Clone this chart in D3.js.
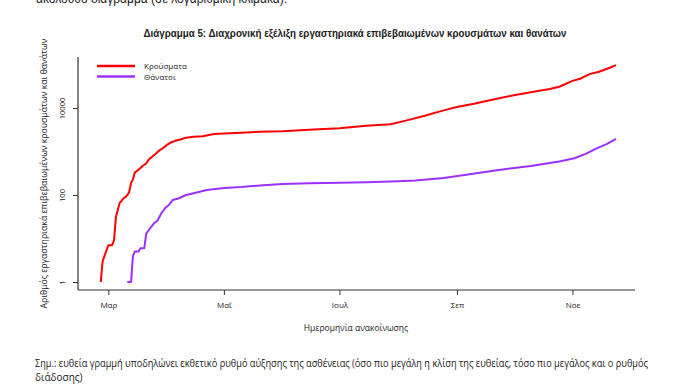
<!DOCTYPE html>
<html>
<head>
<meta charset="utf-8">
<script src="https://cdn.jsdelivr.net/npm/d3@7"></script>
<style>
  body { margin: 0; background: #fff; }
  svg { display: block; }
  text { font-family: "Open Sans", "Noto Sans", sans-serif; fill: #222; }
</style>
</head>
<body>
<svg width="680" height="390"></svg>
<script>
// cumulative confirmed cases (log scale)
const caseDates = ["2020-02-26","2020-02-27","2020-02-28","2020-03-01","2020-03-03","2020-03-04","2020-03-05","2020-03-06","2020-03-07","2020-03-08","2020-03-09","2020-03-10","2020-03-11","2020-03-12","2020-03-13","2020-03-14","2020-03-15","2020-03-16","2020-03-17","2020-03-18","2020-03-19","2020-03-20","2020-03-21","2020-03-22","2020-03-23","2020-03-24","2020-03-25","2020-03-26","2020-03-28","2020-03-30","2020-04-01","2020-04-03","2020-04-05","2020-04-08","2020-04-11","2020-04-15","2020-04-20","2020-04-23","2020-04-26","2020-05-01","2020-05-10","2020-05-20","2020-06-01","2020-06-15","2020-07-01","2020-07-15","2020-07-28","2020-08-05","2020-08-15","2020-08-25","2020-09-01","2020-09-10","2020-09-22","2020-10-01","2020-10-10","2020-10-20","2020-10-25","2020-11-01","2020-11-05","2020-11-10","2020-11-15","2020-11-20","2020-11-24"];
const caseValues = [1,3,4,7,7,9,31,45,66,73,84,89,99,117,190,228,331,352,387,418,464,495,530,624,695,743,821,892,1061,1212,1415,1613,1735,1884,2081,2192,2245,2401,2517,2591,2710,2850,2918,3148,3432,3910,4227,5123,6632,8819,10524,12452,16286,19613,23000,27334,30782,42000,47000,60000,68000,82000,97000];

// cumulative deaths
const deathDates = ["2020-03-11","2020-03-13","2020-03-14","2020-03-15","2020-03-17","2020-03-18","2020-03-20","2020-03-21","2020-03-23","2020-03-25","2020-03-27","2020-03-29","2020-03-31","2020-04-02","2020-04-04","2020-04-07","2020-04-11","2020-04-15","2020-04-22","2020-05-01","2020-05-10","2020-05-20","2020-06-01","2020-06-15","2020-07-01","2020-07-15","2020-08-01","2020-08-10","2020-08-25","2020-09-05","2020-09-23","2020-10-10","2020-10-25","2020-11-02","2020-11-08","2020-11-14","2020-11-19","2020-11-24"];
const deathValues = [1,1,4,5,5,6,6,13,17,22,26,38,50,59,77,83,100,110,130,145,152,165,180,187,192,196,206,215,246,288,376,464,590,700,880,1200,1480,1940];

const tickDates = ["2020-03-01","2020-05-01","2020-07-01","2020-09-01","2020-11-01"];
const tickLabels = ["Μαρ","Μαΐ","Ιουλ","Σεπ","Νοε"];
const yTicks = [1, 100, 10000];
const seriesNames = ["Κρούσματα","Θάνατοι"];
const seriesColors = ["#ff0000","#9b30ff"];

const parse = d3.utcParse("%Y-%m-%d");
const plot = {left: 78, right: 635, top: 57, bottom: 290};

var svg = d3.select("svg");
svg.append("rect").attr("width", 680).attr("height", 390).attr("fill", "#fff");

var x = d3.scaleUtc()
          .domain([parse("2020-02-14"), parse("2020-12-04")])
          .range([plot.left, plot.right]);
var y = d3.scaleLog()
          .domain([0.655, 148600])
          .range([plot.bottom, plot.top]);

// cut-off line of document text above the figure
svg.append("text")
   .attr("x", 36).attr("y", 3)
   .style("font-family", "'Liberation Sans Narrow', 'Liberation Sans', sans-serif")
   .style("font-size", "12px")
   .text("ακόλουθο διάγραμμα (σε λογαριθμική κλίμακα).");

svg.append("text")
   .attr("x", 355).attr("y", 37)
   .attr("text-anchor", "middle")
   .attr("textLength", 423).attr("lengthAdjust", "spacingAndGlyphs")
   .style("font-family", "'Liberation Sans Narrow', 'Liberation Sans', sans-serif")
   .style("font-weight", "bold").style("font-size", "10px")
   .text("Διάγραμμα 5: Διαχρονική εξέλιξη εργαστηριακά επιβεβαιωμένων κρουσμάτων και θανάτων");

// axes
var xAxis = d3.axisBottom(x)
              .tickValues(tickDates.map(parse))
              .tickFormat(function(d, i) { return tickLabels[i]; })
              .tickSize(5).tickSizeOuter(0);
svg.append("g")
   .attr("transform", "translate(0," + plot.bottom + ")")
   .call(customXAxis);

function customXAxis(g) {
  g.call(xAxis);
  g.select(".domain").attr("stroke", "#333").attr("stroke-width", 1.2)
   .attr("d", "M" + plot.left + ",0H" + plot.right);
  g.selectAll(".tick line").attr("stroke", "#333");
  g.selectAll(".tick text").attr("y", 12).style("font-size", "8px").attr("fill", "#333");
}

var yAxis = d3.axisLeft(y)
              .tickValues(yTicks)
              .tickFormat(d3.format("d"))
              .tickSize(5).tickSizeOuter(0);
svg.append("g")
   .attr("transform", "translate(" + plot.left + ",0)")
   .call(customYAxis);

function customYAxis(g) {
  g.call(yAxis);
  g.select(".domain").attr("stroke", "#333").attr("stroke-width", 1.2)
   .attr("d", "M0," + plot.top + "V" + plot.bottom);
  g.selectAll(".tick line").attr("stroke", "#333");
  g.selectAll(".tick text")
   .attr("x", 0).attr("dy", 0)
   .attr("text-anchor", "middle")
   .attr("transform", "translate(-13,0) rotate(-90)")
   .style("font-size", "7.5px").attr("fill", "#333");
}

svg.append("text")
   .attr("x", 356).attr("y", 331)
   .attr("text-anchor", "middle")
   .style("font-size", "8.5px")
   .text("Ημερομηνία ανακοίνωσης");

svg.append("text")
   .attr("transform", "translate(47," + ((plot.top + plot.bottom) / 2) + ") rotate(-90)")
   .attr("text-anchor", "middle")
   .attr("textLength", 270).attr("lengthAdjust", "spacingAndGlyphs")
   .style("font-size", "8.5px")
   .text("Αριθμός εργαστηριακά επιβεβαιωμένων κρουσμάτων και θανάτων");

// lines
var line = d3.line()
             .x(function(d) { return x(d.date); })
             .y(function(d) { return y(d.value); });

var series = [
  caseDates.map(function(d, i) { return {date: parse(d), value: caseValues[i]}; }),
  deathDates.map(function(d, i) { return {date: parse(d), value: deathValues[i]}; })
];

svg.selectAll(".series")
   .data(series)
   .enter().append("path")
   .attr("class", "series")
   .attr("fill", "none")
   .attr("stroke", function(d, i) { return seriesColors[i]; })
   .attr("stroke-width", 2)
   .attr("stroke-linejoin", "round")
   .attr("d", line);

// legend
var legend = svg.append("g").attr("transform", "translate(97,66)");
seriesNames.forEach(function(name, i) {
  legend.append("line")
        .attr("x1", 0).attr("x2", 38)
        .attr("y1", i * 10.5).attr("y2", i * 10.5)
        .attr("stroke", seriesColors[i]).attr("stroke-width", 2.5);
  legend.append("text")
        .attr("x", 47).attr("y", i * 10.5 + 3)
        .style("font-size", "8px")
        .text(name);
});

// note under the figure
var note = svg.append("g")
              .style("font-family", "'Liberation Sans Narrow', 'Liberation Sans', sans-serif")
              .style("font-size", "10px");
note.append("text")
    .attr("x", 35).attr("y", 367)
    .attr("textLength", 613).attr("lengthAdjust", "spacingAndGlyphs")
    .text("Σημ.: ευθεία γραμμή υποδηλώνει εκθετικό ρυθμό αύξησης της ασθένειας (όσο πιο μεγάλη η κλίση της ευθείας, τόσο πιο μεγάλος και ο ρυθμός");
note.append("text")
    .attr("x", 35).attr("y", 381)
    .text("διάδοσης)");
</script>
</body>
</html>
